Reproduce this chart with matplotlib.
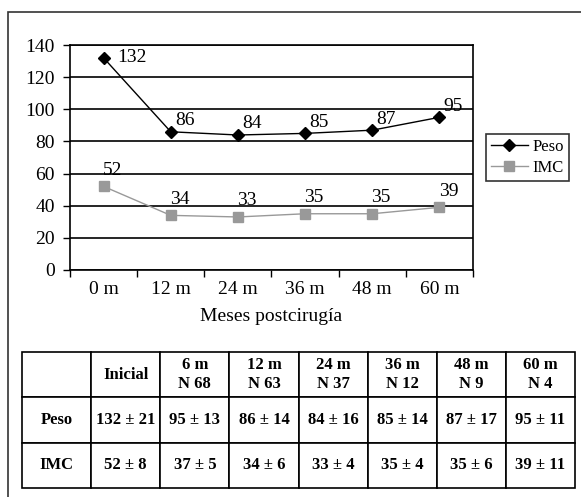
import matplotlib.pyplot as plt
from matplotlib.patches import Rectangle

plt.rcParams['font.family'] = ['Liberation Serif', 'DejaVu Serif']

# Chart data
meses = ['0 m', '12 m', '24 m', '36 m', '48 m', '60 m']
peso = [132, 86, 84, 85, 87, 95]
imc = [52, 34, 33, 35, 35, 39]

# Table data
col_labels = ['', 'Inicial', '6 m\nN 68', '12 m\nN 63', '24 m\nN 37',
              '36 m\nN 12', '48 m\nN 9', '60 m\nN 4']
peso_tabla = ['132 ± 21', '95 ± 13', '86 ± 14', '84 ± 16', '85 ± 14', '87 ± 17', '95 ± 11']
imc_tabla = ['52 ± 8', '37 ± 5', '34 ± 6', '33 ± 4', '35 ± 4', '35 ± 6', '39 ± 11']

W, H = 581, 497
fig = plt.figure(figsize=(W / 100, H / 100), dpi=100)

# outer frame
fig.patches.append(Rectangle((8 / W, -0.1), 1.2, 1.1 - 12 / H,
                             transform=fig.transFigure, fill=False,
                             edgecolor='#333333', linewidth=1.2))

ax = fig.add_axes([70 / W, 1 - 270 / H, (473 - 70) / W, (270 - 45) / H])
x = list(range(len(meses)))
ax.plot(x, peso, color='black', marker='D', markersize=6, linewidth=1, label='Peso', zorder=3)
ax.plot(x, imc, color='#999999', marker='s', markersize=7.5, linewidth=1, label='IMC', zorder=3)

for i, v in enumerate(peso):
    off = (28, 0) if i == 0 else (14, 11)
    ax.annotate(str(v), (i, v), xytext=off, textcoords='offset pixels',
                ha='center', va='center', fontsize=14)
for i, v in enumerate(imc):
    ax.annotate(str(v), (i, v), xytext=(9, 16), textcoords='offset pixels',
                ha='center', va='center', fontsize=14)

ax.set_xlim(-0.5, len(meses) - 0.5)
ax.set_ylim(0, 140)
ax.set_yticks(range(0, 141, 20))
ax.set_xticks(x)
ax.set_xticklabels(meses)
ax.set_xticks([i - 0.5 for i in range(len(meses) + 1)], minor=True)
ax.tick_params(axis='x', which='major', length=0, labelsize=14, pad=8)
ax.tick_params(axis='x', which='minor', length=5, width=1, direction='out')
ax.tick_params(axis='y', length=5, width=1, direction='out', labelsize=14, pad=6)
ax.grid(axis='y', color='black', linewidth=1.2)
ax.set_axisbelow(True)
for s in ax.spines.values():
    s.set_linewidth(1.2)
ax.set_xlabel('Meses postcirugía', fontsize=14, labelpad=7)

leg = fig.legend(loc='upper left', bbox_to_anchor=(486 / W, 1 - 134 / H),
                 fancybox=False, edgecolor='black', fontsize=12,
                 handlelength=2.2, borderpad=0.3, labelspacing=0.3,
                 handletextpad=0.3, borderaxespad=0)
leg.get_frame().set_linewidth(1.2)

# table
tax = fig.add_axes([22 / W, 1 - 488 / H, (575 - 22) / W, (488 - 352) / H])
tax.axis('off')
cells = [['Peso'] + peso_tabla, ['IMC'] + imc_tabla]
tbl = tax.table(cellText=cells, colLabels=col_labels, bbox=[0, 0, 1, 1],
                cellLoc='center')
tbl.auto_set_font_size(False)
for (r, c), cell in tbl.get_celld().items():
    cell.set_edgecolor('black')
    cell.set_linewidth(1.2)
    cell.get_text().set_fontsize(12)
    cell.get_text().set_fontweight('bold')

fig.savefig('out.png', dpi=100)
